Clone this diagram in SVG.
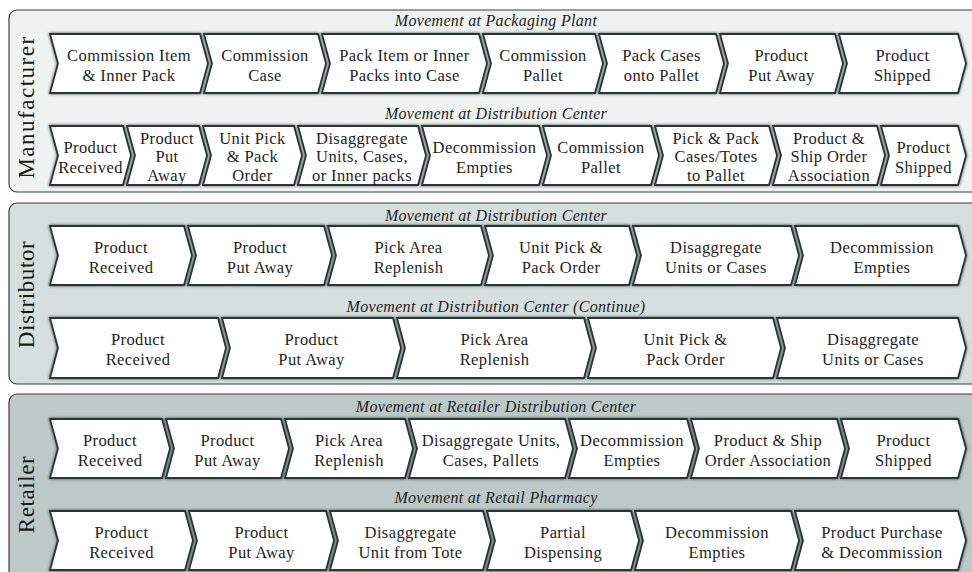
<svg xmlns="http://www.w3.org/2000/svg" width="972" height="572" viewBox="0 0 972 572">
<defs>
<filter id="sh" x="-10%" y="-20%" width="120%" height="140%">
<feDropShadow dx="0" dy="0" stdDeviation="1.8" flood-color="#1e2b2b" flood-opacity="0.85"/>
</filter>
<style>
.panel{stroke:#3a3f3f;stroke-width:1.2}
.chev path{fill:#ffffff;stroke:#2a3636;stroke-width:1.8;filter:url(#sh)}
.chev text{font-family:'Liberation Serif','DejaVu Serif',serif;font-size:16.5px;letter-spacing:0.4px;text-anchor:middle;fill:#1e1e1e}
.hd{font-family:'Liberation Serif','DejaVu Serif',serif;font-size:16px;font-style:italic;letter-spacing:0.3px;text-anchor:middle;fill:#1e1e1e}
.lab{font-family:'Liberation Serif','DejaVu Serif',serif;font-size:23px;letter-spacing:1.5px;text-anchor:middle;fill:#1a1a1a}
.lab2{letter-spacing:0.6px}
</style>
</defs>
<rect fill="#ffffff" width="972" height="572"/>

<g id="panel-manufacturer">
<rect class="panel" x="9" y="10" width="1000" height="182" rx="8" fill="#eef2f1"/>
<text class="lab" transform="translate(34 107) rotate(-90)">Manufacturer</text>
<text class="hd" x="496" y="26">Movement at Packaging Plant</text>
<text class="hd" x="496" y="118.5">Movement at Distribution Center</text>
</g>
<g id="panel-distributor">
<rect class="panel" x="9" y="203" width="1000" height="181" rx="8" fill="#d6dfdd"/>
<text class="lab lab2" transform="translate(34 294.5) rotate(-90)">Distributor</text>
<text class="hd" x="496" y="220.5">Movement at Distribution Center</text>
<text class="hd" x="496" y="312">Movement at Distribution Center (Continue)</text>
</g>
<g id="panel-retailer">
<rect class="panel" x="9" y="394" width="1000" height="220" rx="8" fill="#bdc9c7"/>
<text class="lab lab2" transform="translate(34 494.5) rotate(-90)">Retailer</text>
<text class="hd" x="496" y="412">Movement at Retailer Distribution Center</text>
<text class="hd" x="496" y="503">Movement at Retail Pharmacy</text>
</g>

<g id="nodes">
<g id="m1a" class="chev"><path d="M50 34H200L208 63.5L200 93H50L58 63.5Z"/><text><tspan x="129" y="60.5">Commission Item</tspan><tspan x="129" y="80.5">&amp; Inner Pack</tspan></text></g>
<g id="m1b" class="chev"><path d="M204 34H318L326 63.5L318 93H204L212 63.5Z"/><text><tspan x="265" y="60.5">Commission</tspan><tspan x="265" y="80.5">Case</tspan></text></g>
<g id="m1c" class="chev"><path d="M322 34H479L487 63.5L479 93H322L330 63.5Z"/><text><tspan x="404.5" y="60.5">Pack Item or Inner</tspan><tspan x="404.5" y="80.5">Packs into Case</tspan></text></g>
<g id="m1d" class="chev"><path d="M483 34H595L603 63.5L595 93H483L491 63.5Z"/><text><tspan x="543" y="60.5">Commission</tspan><tspan x="543" y="80.5">Pallet</tspan></text></g>
<g id="m1e" class="chev"><path d="M599 34H716L724 63.5L716 93H599L607 63.5Z"/><text><tspan x="661.5" y="60.5">Pack Cases</tspan><tspan x="661.5" y="80.5">onto Pallet</tspan></text></g>
<g id="m1f" class="chev"><path d="M720 34H835L843 63.5L835 93H720L728 63.5Z"/><text><tspan x="781.5" y="60.5">Product</tspan><tspan x="781.5" y="80.5">Put Away</tspan></text></g>
<g id="m1g" class="chev"><path d="M839 34H958L966 63.5L958 93H839L847 63.5Z"/><text><tspan x="902.5" y="60.5">Product</tspan><tspan x="902.5" y="80.5">Shipped</tspan></text></g>

<g id="m2a" class="chev"><path d="M50 126H123L131 155.5L123 185H50L58 155.5Z"/><text><tspan x="90.5" y="152.5">Product</tspan><tspan x="90.5" y="172.5">Received</tspan></text></g>
<g id="m2b" class="chev"><path d="M127 126H199L207 155.5L199 185H127L135 155.5Z"/><text><tspan x="167" y="143.5">Product</tspan><tspan x="167" y="162">Put</tspan><tspan x="167" y="180.5">Away</tspan></text></g>
<g id="m2c" class="chev"><path d="M203 126H294L302 155.5L294 185H203L211 155.5Z"/><text><tspan x="252.5" y="143.5">Unit Pick</tspan><tspan x="252.5" y="162">&amp; Pack</tspan><tspan x="252.5" y="180.5">Order</tspan></text></g>
<g id="m2d" class="chev"><path d="M298 126H418L426 155.5L418 185H298L306 155.5Z"/><text><tspan x="362" y="143.5">Disaggregate</tspan><tspan x="362" y="162">Units, Cases,</tspan><tspan x="362" y="180.5">or Inner packs</tspan></text></g>
<g id="m2e" class="chev"><path d="M422 126H539L547 155.5L539 185H422L430 155.5Z"/><text><tspan x="484.5" y="152.5">Decommission</tspan><tspan x="484.5" y="172.5">Empties</tspan></text></g>
<g id="m2f" class="chev"><path d="M543 126H651L659 155.5L651 185H543L551 155.5Z"/><text><tspan x="601" y="152.5">Commission</tspan><tspan x="601" y="172.5">Pallet</tspan></text></g>
<g id="m2g" class="chev"><path d="M655 126H769L777 155.5L769 185H655L663 155.5Z"/><text><tspan x="716" y="143.5">Pick &amp; Pack</tspan><tspan x="716" y="162">Cases/Totes</tspan><tspan x="716" y="180.5">to Pallet</tspan></text></g>
<g id="m2h" class="chev"><path d="M773 126H877L885 155.5L877 185H773L781 155.5Z"/><text><tspan x="829" y="143.5">Product &amp;</tspan><tspan x="829" y="162">Ship Order</tspan><tspan x="829" y="180.5">Association</tspan></text></g>
<g id="m2i" class="chev"><path d="M881 126H958L966 155.5L958 185H881L889 155.5Z"/><text><tspan x="923.5" y="152.5">Product</tspan><tspan x="923.5" y="172.5">Shipped</tspan></text></g>

<g id="d1a" class="chev"><path d="M50 226H184L192 255.5L184 285H50L58 255.5Z"/><text><tspan x="121" y="252.5">Product</tspan><tspan x="121" y="272.5">Received</tspan></text></g>
<g id="d1b" class="chev"><path d="M188 226H324L332 255.5L324 285H188L196 255.5Z"/><text><tspan x="260" y="252.5">Product</tspan><tspan x="260" y="272.5">Put Away</tspan></text></g>
<g id="d1c" class="chev"><path d="M328 226H481L489 255.5L481 285H328L336 255.5Z"/><text><tspan x="408.5" y="252.5">Pick Area</tspan><tspan x="408.5" y="272.5">Replenish</tspan></text></g>
<g id="d1d" class="chev"><path d="M485 226H629L637 255.5L629 285H485L493 255.5Z"/><text><tspan x="561" y="252.5">Unit Pick &amp;</tspan><tspan x="561" y="272.5">Pack Order</tspan></text></g>
<g id="d1e" class="chev"><path d="M633 226H791L799 255.5L791 285H633L641 255.5Z"/><text><tspan x="716" y="252.5">Disaggregate</tspan><tspan x="716" y="272.5">Units or Cases</tspan></text></g>
<g id="d1f" class="chev"><path d="M795 226H958L966 255.5L958 285H795L803 255.5Z"/><text><tspan x="882" y="252.5">Decommission</tspan><tspan x="882" y="272.5">Empties</tspan></text></g>

<g id="d2a" class="chev"><path d="M50 318H218L226 348L218 378H50L58 348Z"/><text><tspan x="138" y="345">Product</tspan><tspan x="138" y="365">Received</tspan></text></g>
<g id="d2b" class="chev"><path d="M222 318H393L401 348L393 378H222L230 348Z"/><text><tspan x="311.5" y="345">Product</tspan><tspan x="311.5" y="365">Put Away</tspan></text></g>
<g id="d2c" class="chev"><path d="M397 318H584L592 348L584 378H397L405 348Z"/><text><tspan x="494.5" y="345">Pick Area</tspan><tspan x="494.5" y="365">Replenish</tspan></text></g>
<g id="d2d" class="chev"><path d="M588 318H773L781 348L773 378H588L596 348Z"/><text><tspan x="685.5" y="345">Unit Pick &amp;</tspan><tspan x="685.5" y="365">Pack Order</tspan></text></g>
<g id="d2e" class="chev"><path d="M777 318H958L966 348L958 378H777L785 348Z"/><text><tspan x="873" y="345">Disaggregate</tspan><tspan x="873" y="365">Units or Cases</tspan></text></g>

<g id="r1a" class="chev"><path d="M50 419H162L170 448.5L162 478H50L58 448.5Z"/><text><tspan x="110" y="445.5">Product</tspan><tspan x="110" y="465.5">Received</tspan></text></g>
<g id="r1b" class="chev"><path d="M166 419H281L289 448.5L281 478H166L174 448.5Z"/><text><tspan x="227.5" y="445.5">Product</tspan><tspan x="227.5" y="465.5">Put Away</tspan></text></g>
<g id="r1c" class="chev"><path d="M285 419H405L413 448.5L405 478H285L293 448.5Z"/><text><tspan x="349" y="445.5">Pick Area</tspan><tspan x="349" y="465.5">Replenish</tspan></text></g>
<g id="r1d" class="chev"><path d="M409 419H565L573 448.5L565 478H409L417 448.5Z"/><text><tspan x="491" y="445.5">Disaggregate Units,</tspan><tspan x="491" y="465.5">Cases, Pallets</tspan></text></g>
<g id="r1e" class="chev"><path d="M569 419H687L695 448.5L687 478H569L577 448.5Z"/><text><tspan x="632" y="445.5">Decommission</tspan><tspan x="632" y="465.5">Empties</tspan></text></g>
<g id="r1f" class="chev"><path d="M691 419H837L845 448.5L837 478H691L699 448.5Z"/><text><tspan x="768" y="445.5">Product &amp; Ship</tspan><tspan x="768" y="465.5">Order Association</tspan></text></g>
<g id="r1g" class="chev"><path d="M841 419H958L966 448.5L958 478H841L849 448.5Z"/><text><tspan x="903.5" y="445.5">Product</tspan><tspan x="903.5" y="465.5">Shipped</tspan></text></g>

<g id="r2a" class="chev"><path d="M50 511H185L193 540.5L185 570H50L58 540.5Z"/><text><tspan x="121.5" y="537.5">Product</tspan><tspan x="121.5" y="557.5">Received</tspan></text></g>
<g id="r2b" class="chev"><path d="M189 511H326L334 540.5L326 570H189L197 540.5Z"/><text><tspan x="261.5" y="537.5">Product</tspan><tspan x="261.5" y="557.5">Put Away</tspan></text></g>
<g id="r2c" class="chev"><path d="M330 511H483L491 540.5L483 570H330L338 540.5Z"/><text><tspan x="410.5" y="537.5">Disaggregate</tspan><tspan x="410.5" y="557.5">Unit from Tote</tspan></text></g>
<g id="r2d" class="chev"><path d="M487 511H631L639 540.5L631 570H487L495 540.5Z"/><text><tspan x="563" y="537.5">Partial</tspan><tspan x="563" y="557.5">Dispensing</tspan></text></g>
<g id="r2e" class="chev"><path d="M635 511H791L799 540.5L791 570H635L643 540.5Z"/><text><tspan x="717" y="537.5">Decommission</tspan><tspan x="717" y="557.5">Empties</tspan></text></g>
<g id="r2f" class="chev"><path d="M795 511H958L966 540.5L958 570H795L803 540.5Z"/><text><tspan x="882" y="537.5">Product Purchase</tspan><tspan x="882" y="557.5">&amp; Decommission</tspan></text></g>
</g>
<g id="connectors"/>
</svg>
